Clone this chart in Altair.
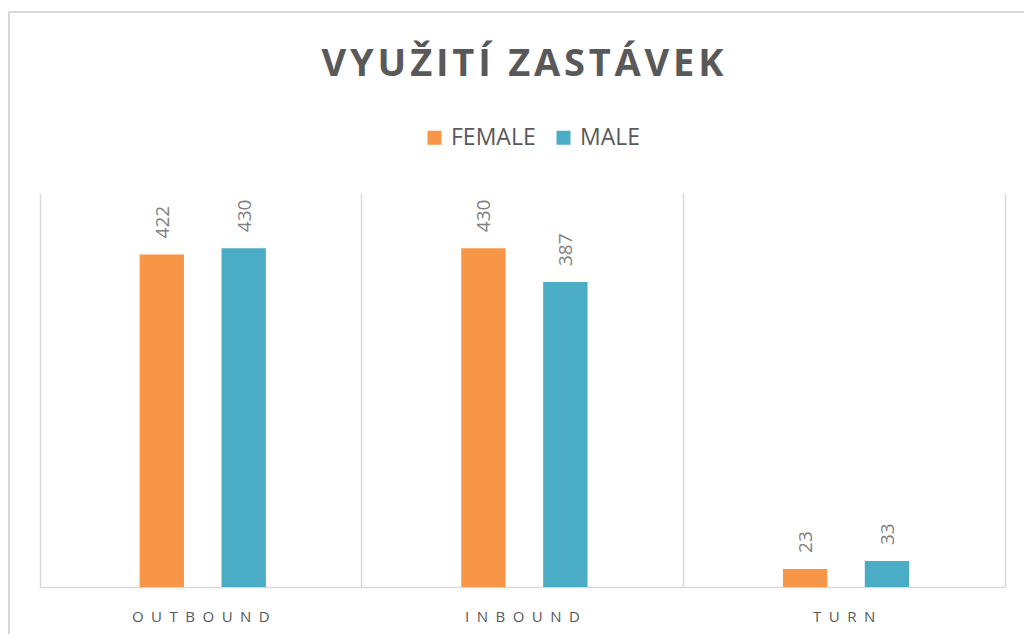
import altair as alt
import pandas as pd

categories = ["OUTBOUND", "INBOUND", "TURN"]
series = ["FEMALE", "MALE"]
female = [422, 430, 23]
male = [430, 387, 33]
colors = ["#F79646", "#4BACC6"]
title_text = "VYUŽITÍ ZASTÁVEK"

rows = []
for i, c in enumerate(categories):
    rows.append({"cat": c, "sex": "FEMALE", "val": female[i]})
    rows.append({"cat": c, "sex": "MALE", "val": male[i]})
df = pd.DataFrame(rows)

FONT = "Open Sans"
GRAY = "#595959"
LINE = "#d9d9d9"

x = alt.X("cat:N", sort=categories, title=None,
          scale=alt.Scale(paddingInner=0, paddingOuter=0),
          axis=alt.Axis(labelAngle=0, labelFont=FONT, labelFontSize=15, labelColor=GRAY,
                        labelPadding=22, ticks=False, domainColor=LINE, domainWidth=1.5,
                        labelExpr="join(split(datum.label, ''), '\u2002')",
                        grid=True, gridColor=LINE, gridWidth=1.5, bandPosition=0))
xo = alt.XOffset("sex:N",
                 scale=alt.Scale(domain=["_a", "FEMALE", "MALE", "_b"],
                                 paddingInner=0.458, paddingOuter=0.193, align=0.56))
y = alt.Y("val:Q", title=None, scale=alt.Scale(domain=[0, 500]),
          axis=alt.Axis(orient="right", labels=False, ticks=False, grid=False,
                        domainColor=LINE, domainWidth=1.5))
color = alt.Color("sex:N", sort=series, title=None,
                  scale=alt.Scale(domain=series, range=colors),
                  legend=alt.Legend(orient="none", legendX=383, legendY=-67,
                                    direction="horizontal", symbolType="square",
                                    symbolSize=196, labelFont=FONT, labelFontSize=23,
                                    labelColor=GRAY, columnPadding=16,
                                    labelOffset=5, symbolStrokeWidth=0))

base = alt.Chart(df)
bars = base.mark_bar().encode(x=x, xOffset=xo, y=y, color=color)
labels = base.mark_text(angle=270, align="left", baseline="middle", dx=16, dy=1,
                        font=FONT, fontSize=19, color="#7f7f7f").encode(
    x=alt.X("cat:N", sort=categories), xOffset=xo, y="val:Q", text="val:Q")

frame = alt.Chart(pd.DataFrame({"a": [0]})).mark_rect(
    fill=None, stroke=LINE, strokeWidth=2).encode(
    x=alt.value(-31), x2=alt.value(1100), y=alt.value(-181), y2=alt.value(600))

chart = alt.layer(frame, bars, labels).properties(
    width=965, height=394,
    autosize=alt.AutoSizeParams(type="none"),
    padding={"left": 32, "top": 185, "right": 19, "bottom": 47},
    title=alt.Title("\u200a".join(title_text), font=FONT, fontSize=38, fontWeight="bold",
                    color=GRAY, offset=0, dy=103, baseline="alphabetic", anchor="middle")
).configure_view(stroke=None).configure_title(limit=0)

chart.save("out.html", embed_options={"renderer": "svg", "actions": False})
